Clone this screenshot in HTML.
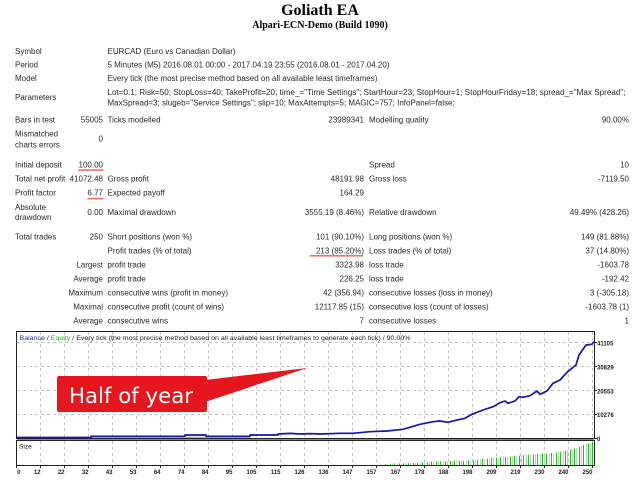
<!DOCTYPE html>
<html><head><meta charset="utf-8"><style>
html,body{margin:0;padding:0;background:#fff;}
svg{display:block;}
.t{font-family:"Liberation Sans",sans-serif;font-size:8px;fill:#2a2a2a;}
.r{text-anchor:end;}
.ax{font-family:"Liberation Sans",sans-serif;font-size:6px;font-weight:bold;fill:#222;}
</style></head><body>
<svg width="640" height="480" viewBox="0 0 640 480" xmlns="http://www.w3.org/2000/svg">
<rect width="640" height="480" fill="#fff"/>
<text x="320" y="15" text-anchor="middle" font-family="Liberation Serif,serif" font-weight="bold" font-size="16" fill="#000">Goliath EA</text>
<text x="320" y="28" text-anchor="middle" font-family="Liberation Serif,serif" font-weight="bold" font-size="10" fill="#000">Alpari-ECN-Demo (Build 1090)</text>

<g class="t">
<text x="15" y="54">Symbol</text><text x="107.5" y="54">EURCAD (Euro vs Canadian Dollar)</text>
<text x="15" y="67.7">Period</text><text x="107.5" y="67.7">5 Minutes (M5) 2016.08.01 00:00 - 2017.04.19 23:55 (2016.08.01 - 2017.04.20)</text>
<text x="15" y="81">Model</text><text x="107.5" y="81">Every tick (the most precise method based on all available least timeframes)</text>
<text x="15" y="100">Parameters</text>
<text x="107.5" y="95" textLength="518" lengthAdjust="spacingAndGlyphs">Lot=0.1; Risk=50; StopLoss=40; TakeProfit=20; time_="Time Settings"; StartHour=23; StopHour=1; StopHourFriday=18; spread_="Max Spread";</text>
<text x="107.5" y="105.3">MaxSpread=3; slugeb="Service Settings"; slip=10; MaxAttempts=5; MAGIC=757; InfoPanel=false;</text>
<text x="15" y="122.7">Bars in test</text><text class="r" x="103" y="122.7">55005</text><text x="107.5" y="122.7">Ticks modelled</text><text class="r" x="364" y="122.7">23989341</text><text x="369" y="122.7">Modelling quality</text><text class="r" x="629" y="122.7">90.00%</text>
<text x="15" y="136.7">Mismatched</text><text x="15" y="147.7">charts errors</text><text class="r" x="103" y="141.5">0</text>

<text x="15" y="167.3">Initial deposit</text><text class="r" x="103" y="167.3">100.00</text><text x="369" y="167.3">Spread</text><text class="r" x="629" y="167.3">10</text>
<text x="15" y="181.5">Total net profit</text><text class="r" x="103" y="181.5">41072.48</text><text x="107.5" y="181.5">Gross profit</text><text class="r" x="364" y="181.5">48191.98</text><text x="369" y="181.5">Gross loss</text><text class="r" x="629" y="181.5">-7119.50</text>
<text x="15" y="195.6">Profit factor</text><text class="r" x="103" y="195.6">6.77</text><text x="107.5" y="195.6">Expected payoff</text><text class="r" x="364" y="195.6">164.29</text>
<text x="15" y="210">Absolute</text><text x="15" y="220">drawdown</text><text class="r" x="103" y="215">0.00</text><text x="107.5" y="215">Maximal drawdown</text><text class="r" x="364" y="215">3555.19 (8.46%)</text><text x="369" y="215">Relative drawdown</text><text class="r" x="629" y="215">49.49% (428.26)</text>
<text x="15" y="239.5">Total trades</text><text class="r" x="103" y="239.5">250</text><text x="107.5" y="239.5">Short positions (won %)</text><text class="r" x="364" y="239.5">101 (90.10%)</text><text x="369" y="239.5">Long positions (won %)</text><text class="r" x="629" y="239.5">149 (81.88%)</text>
<text x="107.5" y="253.7">Profit trades (% of total)</text><text class="r" x="364" y="253.7">213 (85.20%)</text><text x="369" y="253.7">Loss trades (% of total)</text><text class="r" x="629" y="253.7">37 (14.80%)</text>
<text class="r" x="103" y="267.7">Largest</text><text x="107.5" y="267.7">profit trade</text><text class="r" x="364" y="267.7">3323.98</text><text x="369" y="267.7">loss trade</text><text class="r" x="629" y="267.7">-1603.78</text>
<text class="r" x="103" y="281.7">Average</text><text x="107.5" y="281.7">profit trade</text><text class="r" x="364" y="281.7">226.25</text><text x="369" y="281.7">loss trade</text><text class="r" x="629" y="281.7">-192.42</text>
<text class="r" x="103" y="295.6">Maximum</text><text x="107.5" y="295.6">consecutive wins (profit in money)</text><text class="r" x="364" y="295.6">42 (356.94)</text><text x="369" y="295.6">consecutive losses (loss in money)</text><text class="r" x="629" y="295.6">3 (-305.18)</text>
<text class="r" x="103" y="309.7">Maximal</text><text x="107.5" y="309.7">consecutive profit (count of wins)</text><text class="r" x="364" y="309.7">12117.85 (15)</text><text x="369" y="309.7">consecutive loss (count of losses)</text><text class="r" x="629" y="309.7">-1603.78 (1)</text>
<text class="r" x="103" y="323.6">Average</text><text x="107.5" y="323.6">consecutive wins</text><text class="r" x="364" y="323.6">7</text><text x="369" y="323.6">consecutive losses</text><text class="r" x="629" y="323.6">1</text>
</g>
<rect x="78" y="169.3" width="25.4" height="1.6" fill="#ef6f6f"/>
<rect x="87.3" y="197.8" width="16" height="1.6" fill="#ef6f6f"/>
<rect x="309.7" y="255" width="53.3" height="1.6" fill="#ef6f6f"/>

<!-- chart panels -->
<rect x="16.5" y="331.5" width="578" height="107" fill="#fff" stroke="#222" stroke-width="1"/>
<rect x="16.5" y="440.5" width="578" height="25" fill="#fff" stroke="#222" stroke-width="1"/>
<g stroke="#c4c4c4" stroke-width="1" stroke-dasharray="3,3">
<path d="M17 342.5H594M17 366.5H594M17 390.5H594M17 414.5H594"/>
<path d="M40.5 332V438M64.5 332V438M88.5 332V438M112.5 332V438M136.5 332V438M160.5 332V438M184.5 332V438M208.5 332V438M232.5 332V438M256.5 332V438M280.5 332V438M304.5 332V438M328.5 332V438M352.5 332V438M376.5 332V438M400.5 332V438M424.5 332V438M448.5 332V438M472.5 332V438M496.5 332V438M520.5 332V438M544.5 332V438M568.5 332V438M592.5 332V438"/>
<path d="M40.5 441V465M64.5 441V465M88.5 441V465M112.5 441V465M136.5 441V465M160.5 441V465M184.5 441V465M208.5 441V465M232.5 441V465M256.5 441V465M280.5 441V465M304.5 441V465M328.5 441V465M352.5 441V465M376.5 441V465M400.5 441V465M424.5 441V465M448.5 441V465M472.5 441V465M496.5 441V465M520.5 441V465M544.5 441V465M568.5 441V465M592.5 441V465"/>
</g>
<g stroke="#222" stroke-width="1">
<path d="M16.5 466V468M40.5 466V468M64.5 466V468M88.5 466V468M112.5 466V468M136.5 466V468M160.5 466V468M184.5 466V468M208.5 466V468M232.5 466V468M256.5 466V468M280.5 466V468M304.5 466V468M328.5 466V468M352.5 466V468M376.5 466V468M400.5 466V468M424.5 466V468M448.5 466V468M472.5 466V468M496.5 466V468M520.5 466V468M544.5 466V468M568.5 466V468M592.5 466V468"/>
<path d="M595 342.5H597M595 366.5H597M595 390.5H597M595 414.5H597M595 438.5H597"/>
</g>
<path d="M17 439.5H594" stroke="#888" stroke-width="1"/>

<!-- size bars -->
<path fill="none" stroke="#2db52d" stroke-width="1" d="M385.5 465v-1M390.5 465v-1.2M394.5 465v-1.4M399.5 465v-1.6M403.5 465v-1.7M408.5 465v-1.9M413.5 465v-2.1M417.5 465v-2.2M422.5 465v-2.5M427.5 465v-2.9M431.5 465v-3.4M436.5 465v-3.6M440.5 465v-3.7M445.5 465v-3.8M450.5 465v-4M454.5 465v-4.1M459.5 465v-4.2M463.5 465v-4.3M468.5 465v-4.5M473.5 465v-4.8M477.5 465v-5.4M482.5 465v-6M487.5 465v-6.5M491.5 465v-6.9M496.5 465v-7.3M500.5 465v-7.7M505.5 465v-8.1M510.5 465v-8.6M514.5 465v-9M519.5 465v-9.4M523.5 465v-9.8M528.5 465v-10.2M533.5 465v-10.5M537.5 465v-10.9M542.5 465v-11.2M546.5 465v-11.5M551.5 465v-11.9M556.5 465v-12.6M560.5 465v-13.4M565.5 465v-14.2M570.5 465v-15.2M574.5 465v-16.4M579.5 465v-18.1M583.5 465v-20.2M588.5 465v-21.5M592.5 465v-23"/>
<path fill="none" stroke="#a3e4a3" stroke-width="1" d="M387.5 465v-1.1M392.5 465v-1.3M397.5 465v-1.5M401.5 465v-1.6M406.5 465v-1.8M410.5 465v-2M415.5 465v-2.1M420.5 465v-2.3M424.5 465v-2.7M429.5 465v-3.1M433.5 465v-3.5M438.5 465v-3.6M443.5 465v-3.8M447.5 465v-3.9M452.5 465v-4M456.5 465v-4.2M461.5 465v-4.3M466.5 465v-4.4M470.5 465v-4.6M475.5 465v-5.1M480.5 465v-5.7M484.5 465v-6.2M489.5 465v-6.7M493.5 465v-7.1M498.5 465v-7.5M503.5 465v-7.9M507.5 465v-8.3M512.5 465v-8.8M516.5 465v-9.2M521.5 465v-9.6M526.5 465v-10M530.5 465v-10.3M535.5 465v-10.7M540.5 465v-11M544.5 465v-11.4M549.5 465v-11.7M553.5 465v-12.1M558.5 465v-13M563.5 465v-13.8M567.5 465v-14.7M572.5 465v-15.8M576.5 465v-17M581.5 465v-19.2M586.5 465v-20.9M590.5 465v-22.2"/>

<!-- equity hint -->
<path d="M91 437.2H250" stroke="#9a9ab8" stroke-width="1"/>
<!-- balance -->
<polyline fill="none" stroke="#1616a6" stroke-width="1.7" stroke-linejoin="round" points="17,437.5 91,437.5 91,436.3 185,436.3 185,435 206,435 206,436.3 250,436.3 250,435 278,435 278,434 290,433.4 300,434 310,433.6 320,434 340,433.3 353,433.3 370,431.7 387,431 403,429.3 420,424.3 433,421.7 440,421 448,422.3 457,420 465,418.3 472,414.3 483,410 493,406.7 500,402.7 505,401 508,403.3 515,401 519,396.7 523,397.3 530,395.7 537,391 540,394.3 547,391 553,383.3 560,380 567,372.3 576,365 579,355 586,345 591.7,344.3 594,341.7"/>

<!-- legend -->
<text x="19.5" y="340" font-family="Liberation Sans,sans-serif" font-size="6.6" textLength="391" lengthAdjust="spacingAndGlyphs" fill="#222"><tspan fill="#2424b4">Balance</tspan> / <tspan fill="#1fbf1f">Equity</tspan> / Every tick (the most precise method based on all available least timeframes to generate each tick) / 90.00%</text>
<text x="19" y="448.3" font-family="Liberation Sans,sans-serif" font-size="6.6" fill="#222">Size</text>

<!-- right axis -->
<g class="ax">
<text x="597" y="345.5">41105</text>
<text x="597" y="369.3">30829</text>
<text x="597" y="393.3">20553</text>
<text x="597" y="417">10276</text>
<text x="597" y="441">0</text>
</g>
<!-- x axis labels -->
<g class="ax" text-anchor="end">
<text x="20.5" y="474">0</text><text x="40.5" y="474">12</text><text x="64.5" y="474">22</text><text x="88.5" y="474">32</text><text x="112.5" y="474">43</text><text x="136.5" y="474">53</text><text x="160.5" y="474">64</text><text x="184.5" y="474">74</text><text x="208.5" y="474">84</text><text x="232.5" y="474">95</text><text x="256.5" y="474">105</text><text x="280.5" y="474">115</text><text x="304.5" y="474">126</text><text x="328.5" y="474">136</text><text x="352.5" y="474">147</text><text x="376.5" y="474">157</text><text x="400.5" y="474">167</text><text x="424.5" y="474">178</text><text x="448.5" y="474">188</text><text x="472.5" y="474">198</text><text x="496.5" y="474">209</text><text x="520.5" y="474">219</text><text x="544.5" y="474">230</text><text x="568.5" y="474">240</text><text x="592.5" y="474">250</text>
</g>

<!-- annotation -->
<polygon points="205,380 307,368 205,402" fill="#e5161d"/>
<rect x="57" y="376" width="150" height="36" rx="2" fill="#e5161d"/>
<text x="69" y="403" font-family="DejaVu Sans,sans-serif" font-size="21.5" fill="#fff" textLength="124" lengthAdjust="spacingAndGlyphs">Half of year</text>
</svg>
</body></html>
